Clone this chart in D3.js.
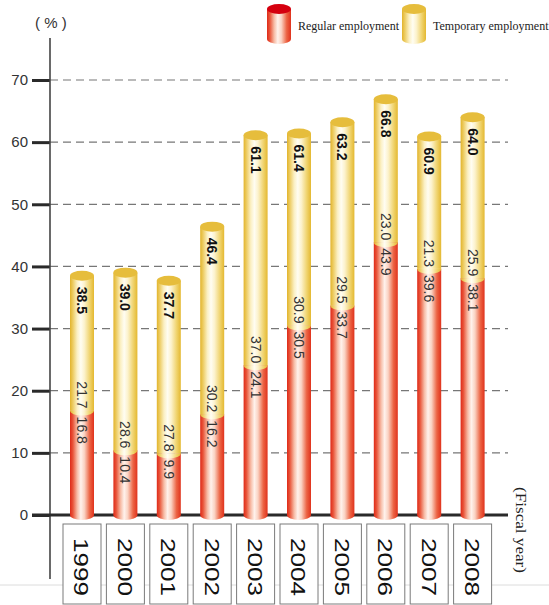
<!DOCTYPE html>
<html>
<head>
<meta charset="utf-8">
<script src="https://cdn.jsdelivr.net/npm/d3@7"></script>
<style>
  html, body { margin: 0; padding: 0; background: #fff; }
  svg { display: block; font-family: "Liberation Sans", Arial, sans-serif; }
</style>
</head>
<body>
<div id="chart"></div>
<script>
// data
const years = ['1999', '2000', '2001', '2002', '2003', '2004', '2005', '2006', '2007', '2008'];
const regular = [16.8, 10.4, 9.9, 16.2, 24.1, 30.5, 33.7, 43.9, 39.6, 38.1];
const temporary = [21.7, 28.6, 27.8, 30.2, 37.0, 30.9, 29.5, 23.0, 21.3, 25.9];
const totals = [38.5, 39.0, 37.7, 46.4, 61.1, 61.4, 63.2, 66.8, 60.9, 64.0];
const yTicks = [0, 10, 20, 30, 40, 50, 60, 70];

const width = 549, height = 605;
const barW = 24, ry = 5;

const svg = d3.select('#chart')
    .append('svg')
    .attr('width', width)
    .attr('height', height);

const defs = svg.append('defs');

function cylGradient(id, stops) {
    const g = defs.append('linearGradient')
        .attr('id', id)
        .attr('x1', '0%').attr('x2', '100%')
        .attr('y1', '0%').attr('y2', '0%');
    stops.forEach(s => {
        g.append('stop').attr('offset', s[0]).attr('stop-color', s[1]);
    });
}
cylGradient('gradRed', [
    ['0%', '#de2a18'], ['12%', '#e9553a'], ['30%', '#f7bca6'],
    ['45%', '#fff2ec'], ['60%', '#fad2c2'], ['82%', '#ec6444'], ['100%', '#e0321c']
]);
cylGradient('gradYellow', [
    ['0%', '#e2b42c'], ['12%', '#edcc62'], ['30%', '#fbf0c4'],
    ['45%', '#fffdf2'], ['60%', '#fcf2cc'], ['82%', '#f0d470'], ['100%', '#e4b830']
]);

const x = d3.scaleBand()
    .domain(years)
    .range([60.3, 494.3])
    .padding(0);

const y = d3.scaleLinear()
    .domain([0, 70])
    .range([515, 80]);

const cx = (d) => x(d) + x.bandwidth() / 2;

// page separator line
svg.append('line')
    .attr('x1', 0).attr('x2', width)
    .attr('y1', 585).attr('y2', 585)
    .attr('stroke', '#dcdcdc')
    .attr('stroke-width', 1);

// dashed grid
svg.append('g')
    .selectAll('line')
    .data(yTicks.filter(t => t > 0))
    .enter()
    .append('line')
        .attr('x1', 50).attr('x2', 508)
        .attr('y1', d => y(d)).attr('y2', d => y(d))
        .attr('stroke', '#777')
        .attr('stroke-width', 1.2)
        .attr('stroke-dasharray', '8,5');

// y axis
const yAxis = svg.append('g')
    .attr('transform', 'translate(50, 0)')
    .call(d3.axisLeft(y).tickValues(yTicks).tickSize(18).tickPadding(4));
yAxis.select('.domain').remove();
yAxis.selectAll('.tick line')
    .attr('stroke', '#2a2a2a')
    .attr('stroke-width', 3);
yAxis.selectAll('.tick text')
    .attr('font-size', '15px')
    .attr('fill', '#333')
    .attr('font-family', '"Liberation Sans", Arial, sans-serif');

svg.append('line')
    .attr('x1', 50).attr('x2', 50)
    .attr('y1', 38).attr('y2', 579)
    .attr('stroke', '#444')
    .attr('stroke-width', 1.6);

svg.append('text')
    .attr('x', 35).attr('y', 28)
    .attr('font-size', '15px')
    .attr('fill', '#333')
    .text('( % )');

// baseline
svg.append('line')
    .attr('x1', 32).attr('x2', 508)
    .attr('y1', y(0)).attr('y2', y(0))
    .attr('stroke', '#2a2a2a')
    .attr('stroke-width', 3);

// year boxes
const boxes = svg.append('g')
    .selectAll('g')
    .data(years)
    .enter()
    .append('g');
boxes.append('rect')
    .attr('x', d => cx(d) - 19)
    .attr('y', 524)
    .attr('width', 38)
    .attr('height', 80)
    .attr('fill', '#fff')
    .attr('stroke', '#7a7a7a')
    .attr('stroke-width', 1);
boxes.append('text')
    .attr('transform', d => `translate(${cx(d)}, 567)rotate(90)`)
    .attr('text-anchor', 'middle')
    .attr('dy', '0.36em')
    .attr('font-size', '21px')
    .attr('textLength', 58)
    .attr('lengthAdjust', 'spacingAndGlyphs')
    .attr('fill', '#111')
    .text(d => d);

// cylinders
const bars = years.map((yr, i) => ({
    year: yr, reg: regular[i], tmp: temporary[i], total: totals[i]
}));

const bar = svg.append('g')
    .selectAll('g')
    .data(bars)
    .enter()
    .append('g');

// red part
bar.append('ellipse')
    .attr('cx', d => cx(d.year))
    .attr('cy', y(0))
    .attr('rx', barW / 2).attr('ry', ry)
    .attr('fill', 'url(#gradRed)');
bar.append('rect')
    .attr('x', d => cx(d.year) - barW / 2)
    .attr('y', d => y(d.reg))
    .attr('width', barW)
    .attr('height', d => y(0) - y(d.reg))
    .attr('fill', 'url(#gradRed)');

// yellow part
bar.append('path')
    .attr('d', d => {
        const c = cx(d.year), yb = y(d.reg);
        return `M${c - barW / 2},${yb}A${barW / 2},${ry} 0 0 0 ${c + barW / 2},${yb}Z`;
    })
    .attr('fill', 'url(#gradYellow)');
bar.append('rect')
    .attr('x', d => cx(d.year) - barW / 2)
    .attr('y', d => y(d.reg + d.tmp))
    .attr('width', barW)
    .attr('height', d => y(d.reg) - y(d.reg + d.tmp))
    .attr('fill', 'url(#gradYellow)');
bar.append('ellipse')
    .attr('cx', d => cx(d.year))
    .attr('cy', d => y(d.reg + d.tmp))
    .attr('rx', barW / 2).attr('ry', ry)
    .attr('fill', '#e6bd3c');

// labels in bars
bar.append('text')
    .attr('transform', d => `translate(${cx(d.year)}, ${y(d.reg + d.tmp) + 11})rotate(90)`)
    .attr('dy', '0.36em')
    .attr('font-size', '14px')
    .attr('font-weight', 'bold')
    .attr('fill', '#111')
    .text(d => d.total.toFixed(1));
bar.append('text')
    .attr('transform', d => `translate(${cx(d.year)}, ${y(d.reg) - 2})rotate(90)`)
    .attr('dy', '0.36em')
    .attr('text-anchor', 'end')
    .attr('font-size', '14px')
    .attr('fill', '#333')
    .text(d => d.tmp.toFixed(1));
bar.append('text')
    .attr('transform', d => `translate(${cx(d.year)}, ${y(d.reg) + 6})rotate(90)`)
    .attr('dy', '0.36em')
    .attr('font-size', '14px')
    .attr('fill', '#333')
    .text(d => d.reg.toFixed(1));

// fiscal year label
svg.append('text')
    .attr('transform', 'translate(516, 487)rotate(90)')
    .attr('font-family', '"Liberation Serif", "Times New Roman", serif')
    .attr('font-size', '14px')
    .attr('textLength', 86)
    .attr('lengthAdjust', 'spacingAndGlyphs')
    .attr('fill', '#222')
    .text('(Fiscal year)');

// legend
const legendItems = [
    { label: 'Regular employment', grad: 'url(#gradRed)', top: '#d5000f', x: 267, tx: 298 },
    { label: 'Temporary employment', grad: 'url(#gradYellow)', top: '#e6bd3c', x: 402, tx: 433 }
];
const legend = svg.append('g')
    .selectAll('g')
    .data(legendItems)
    .enter()
    .append('g');
legend.append('ellipse')
    .attr('cx', d => d.x + 12).attr('cy', 39)
    .attr('rx', 12).attr('ry', 5)
    .attr('fill', d => d.grad);
legend.append('rect')
    .attr('x', d => d.x).attr('y', 9)
    .attr('width', 24).attr('height', 30)
    .attr('fill', d => d.grad);
legend.append('ellipse')
    .attr('cx', d => d.x + 12).attr('cy', 9)
    .attr('rx', 12).attr('ry', 5)
    .attr('fill', d => d.top);
legend.append('text')
    .attr('x', d => d.tx).attr('y', 30)
    .attr('font-family', '"Liberation Serif", "Times New Roman", serif')
    .attr('font-size', '12px')
    .attr('fill', '#222')
    .text(d => d.label);
</script>
</body>
</html>
